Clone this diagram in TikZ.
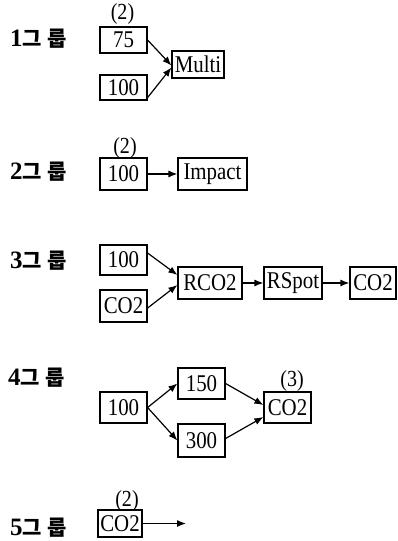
\documentclass[tikz,border=0pt]{standalone}
\usepackage{fontspec}
\setmainfont{Liberation Serif}
\newfontfamily\boxfont[FakeStretch=0.87]{Liberation Serif}
\newfontfamily\kor{Noto Sans CJK KR}
\usetikzlibrary{arrows.meta}
\tikzset{
  unit/.style={draw, line width=1.2pt, inner sep=0pt, font=\boxfont\fontsize{24}{24}\selectfont},
  note/.style={inner sep=0pt, font=\boxfont\fontsize{23}{23}\selectfont},
  grp/.style={anchor=west, inner sep=0pt},
  link/.style={line width=1.2pt, -{Latex[length=9pt,width=7pt]}}
}
\newcommand{\grouplabel}[1]{{\fontsize{25}{25}\selectfont\bfseries #1}{\kor\bfseries\fontsize{21}{21}\selectfont 그\hspace{5pt}룹}}
\begin{document}
\begin{tikzpicture}[x=1pt,y=-1pt]
\useasboundingbox (0,0) rectangle (397,541);

% group 1
\node[grp] (l1) at (10,39) {\grouplabel{1}};
\node[unit, minimum width=47pt, minimum height=26pt] (a75) at (123.5,40) {75};
\node[unit, minimum width=47pt, minimum height=25pt] (a100) at (123.5,87.5) {100};
\node[unit, minimum width=52pt, minimum height=27pt] (multi) at (198,64.5) {Multi};
\node[note] (n1) at (122.5,14) {(2)};
\draw[link] (a75.east) -- ([yshift=-1pt]multi.west);
\draw[link] ([yshift=3pt]a100.south east) -- ([yshift=-3pt]multi.west);

% group 2
\node[grp] (l2) at (10,172) {\grouplabel{2}};
\node[unit, minimum width=47pt, minimum height=32pt] (b100) at (123.5,174) {100};
\node[unit, minimum width=69pt, minimum height=32pt] (impact) at (212.5,174) {Impact};
\node[note] (n2) at (125,148) {(2)};
\draw[link] (b100) -- (impact);

% group 3
\node[grp] (l3) at (10,261) {\grouplabel{3}};
\node[unit, minimum width=47pt, minimum height=30pt] (c100) at (123.5,260) {100};
\node[unit, minimum width=47pt, minimum height=32pt] (cco2) at (123.5,306) {CO2};
\node[unit, minimum width=64pt, minimum height=32pt] (rco2) at (210,283) {RCO2};
\node[unit, minimum width=58pt, minimum height=32pt] (rspot) at (293,283) {RSpot};
\node[unit, minimum width=46pt, minimum height=32pt] (co2end) at (373,283) {CO2};
\draw[link] ([yshift=7pt]c100.east) -- ([yshift=8pt]rco2.west);
\draw[link] ([yshift=-2pt]cco2.east) -- ([yshift=-2pt]rco2.west);
\draw[link] (rco2) -- (rspot);
\draw[link] (rspot) -- (co2end);

% group 4
\node[grp] (l4) at (8,378) {\grouplabel{4}};
\node[unit, minimum width=47pt, minimum height=31pt] (d100) at (123.5,407.5) {100};
\node[unit, minimum width=47pt, minimum height=31pt] (d150) at (201.5,383.5) {150};
\node[unit, minimum width=47pt, minimum height=33pt] (d300) at (201.5,440.5) {300};
\node[unit, minimum width=47pt, minimum height=31pt] (dco2) at (287.5,407.5) {CO2};
\node[note] (n4) at (292,381) {(3)};
\draw[link] (d100.east) -- (d150.west);
\draw[link] (d100.east) -- (d300.west);
\draw[link] (d150.east) -- ([yshift=2.5pt]dco2.west);
\draw[link] ([yshift=2pt]d300.east) -- ([yshift=-9.5pt]dco2.west);

% group 5
\node[grp] (l5) at (10,528) {\grouplabel{5}};
\node[unit, minimum width=44pt, minimum height=27pt] (eco2) at (120,523.5) {CO2};
\node[note] (n5) at (127,501) {(2)};
\coordinate (eout) at (186,523.5);
\draw[link] (eco2.east) -- (eout);
\end{tikzpicture}
\end{document}
